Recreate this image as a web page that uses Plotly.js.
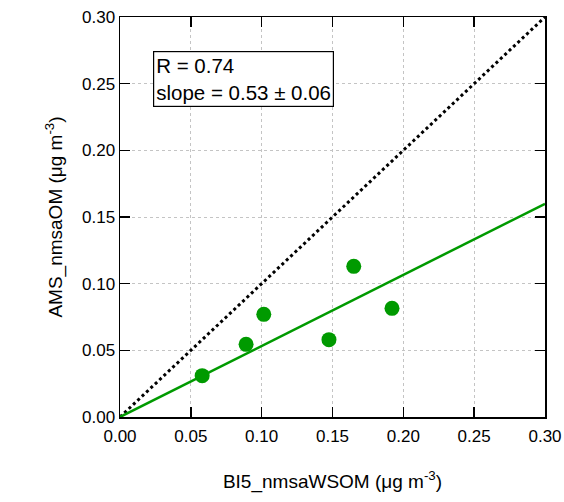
<!DOCTYPE html>
<html><head><meta charset="utf-8">
<script src="https://cdn.plot.ly/plotly-3.0.1.min.js"></script>
<style>body{margin:0;padding:0;background:#fff}#c{width:564px;height:502px}</style>
</head><body><div id="c"></div>
<script>
const wsom = [0.058, 0.089, 0.1015, 0.1475, 0.165, 0.192];
const amsOM = [0.031, 0.0545, 0.077, 0.058, 0.113, 0.0815];
const fitX = [0, 0.30];
const fitSlope = 0.533;
const oneToOne = [0, 0.30];
const tickVals = [0, 0.05, 0.10, 0.15, 0.20, 0.25, 0.30];
const green = '#009a00';

const traces = [
  {x: oneToOne, y: oneToOne, mode: 'lines', line: {color: '#000', width: 3, dash: 'dot'}, hoverinfo: 'skip'},
  {x: fitX, y: fitX.map(v => v * fitSlope), mode: 'lines', line: {color: green, width: 2.5}, hoverinfo: 'skip'},
  {x: wsom, y: amsOM, mode: 'markers', marker: {color: green, size: 15}}
];
const axisBase = {
  range: [0, 0.30], tickvals: tickVals, tickformat: '.2f',
  showline: true, linecolor: '#000', linewidth: 1.5, mirror: 'ticks',
  ticks: 'inside', ticklen: 10, tickwidth: 1.5, tickcolor: '#000',
  showgrid: true, gridcolor: '#c4c4c4', griddash: 'dot', gridwidth: 1,
  zeroline: false, tickfont: {size: 17, color: '#000'}
};
const layout = {
  width: 564, height: 502,
  margin: {l: 120, r: 19, t: 17, b: 85},
  showlegend: false,
  paper_bgcolor: '#fff', plot_bgcolor: '#fff',
  font: {family: 'Liberation Sans, Arial, sans-serif', color: '#000'},
  xaxis: Object.assign({}, axisBase, {ticklabelstandoff: 3, title: {text: 'BI5_nmsaWSOM (μg m<sup>-3</sup>)', font: {size: 19}, standoff: 30}}),
  yaxis: Object.assign({}, axisBase, {title: {text: 'AMS_nmsaOM (μg m<sup>-3</sup>)', font: {size: 19}, standoff: 14}}),
  annotations: [{
    xref: 'paper', yref: 'paper', x: 0.078, y: 0.915, xanchor: 'left', yanchor: 'top',
    text: 'R = 0.74<br>slope = 0.53 ± 0.06', align: 'left', showarrow: false,
    font: {size: 20.5, color: '#000'}, bordercolor: '#000', borderwidth: 1.2, borderpad: 2, bgcolor: '#fff'
  }]
};
Plotly.newPlot('c', traces, layout, {displayModeBar: false, staticPlot: true});
</script></body></html>
